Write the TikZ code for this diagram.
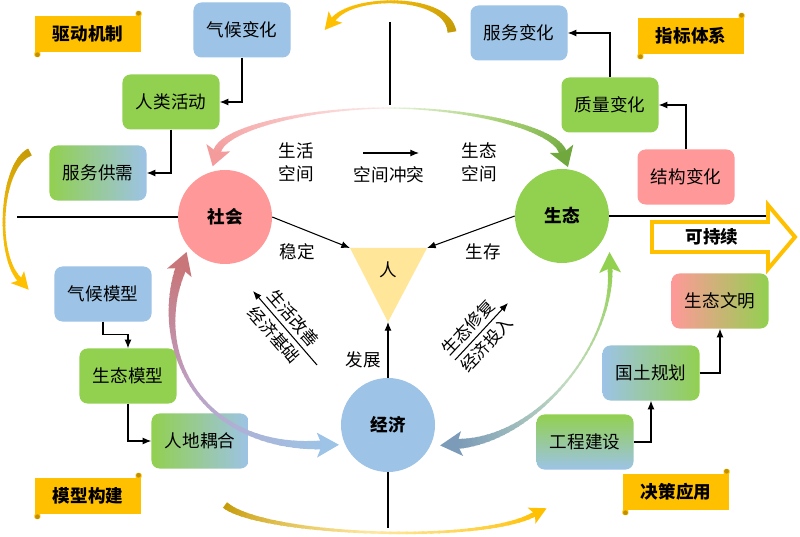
\documentclass[tikz,border=0pt]{standalone}
\usepackage{fontspec}
\setmainfont{Noto Sans CJK SC}
\usetikzlibrary{arrows.meta,calc,shadings}
\definecolor{cblue}{HTML}{9DC3E6}
\definecolor{cgreen}{HTML}{92D050}
\definecolor{cpink}{HTML}{FF9999}
\definecolor{cgold}{HTML}{FFC000}
\definecolor{cdgold}{HTML}{BF9000}
\definecolor{ctri}{HTML}{FFE699}
\definecolor{pinkA}{HTML}{FCEAEA}
\definecolor{pinkM}{HTML}{F8BCBC}
\definecolor{pinkB}{HTML}{F49C9C}
\definecolor{grnA}{HTML}{E8F3DC}
\definecolor{grnM}{HTML}{A5CF72}
\definecolor{grnB}{HTML}{70A83E}
\definecolor{roseA}{HTML}{C8767A}
\definecolor{roseM}{HTML}{BDA2C6}
\definecolor{roseB}{HTML}{9DC3E6}
\definecolor{stlA}{HTML}{7B9BB8}
\definecolor{stlM}{HTML}{C2DCC0}
\definecolor{stlB}{HTML}{92D050}
\definecolor{ylA}{HTML}{C49A06}
\definecolor{ylM}{HTML}{EDB60A}
\definecolor{ylB}{HTML}{FFC000}
\definecolor{ylP}{HTML}{FFE8A0}

\newcommand\setbez[8]{\def\bxa{#1}\def\bya{#2}\def\bxb{#3}\def\byb{#4}\def\bxc{#5}\def\byc{#6}\def\bxd{#7}\def\byd{#8}}
\newcommand\bezpt[2]{%
  \pgfmathsetmacro\bzS{#1}%
  \pgfmathsetmacro\bzU{1-\bzS}%
  \pgfmathsetmacro\bzX{\bzU*\bzU*\bzU*(\bxa)+3*\bzU*\bzU*\bzS*(\bxb)+3*\bzU*\bzS*\bzS*(\bxc)+\bzS*\bzS*\bzS*(\bxd)}%
  \pgfmathsetmacro\bzY{\bzU*\bzU*\bzU*(\bya)+3*\bzU*\bzU*\bzS*(\byb)+3*\bzU*\bzS*\bzS*(\byc)+\bzS*\bzS*\bzS*(\byd)}%
  \coordinate (#2) at (\bzX,\bzY);}
\newcommand\taper[6]{%
  \foreach \ii in {0,...,47}{%
    \pgfmathsetmacro\tsa{\ii/48}%
    \pgfmathsetmacro\tsb{min((\ii+1)/48+0.006,1)}%
    \pgfmathsetmacro\tsm{(\ii+0.5)/48}%
    \pgfmathsetmacro\tww{0.85*((1-\tsm)*(1-\tsm)*(#1)+2*\tsm*(1-\tsm)*(#2)+\tsm*\tsm*(#3))}%
    \pgfmathtruncatemacro\tpc{\tsm<0.5 ? 200*\tsm : 200*(\tsm-0.5)}%
    \ifdim\tsm pt<0.5pt\colorlet{segc}{#5!\tpc!#4}\else\colorlet{segc}{#6!\tpc!#5}\fi
    \bezpt{\tsa}{ta}\bezpt{\tsb}{tb}%
    \draw[segc,line width=\tww pt] (ta) -- (tb);
  }}
\newcommand\bezhead[5]{%
  \bezpt{#1}{he}\bezpt{#2}{hp}%
  \pgfmathsetmacro\hdL{0.85*(#4)}%
  \pgfmathsetmacro\hdB{0.3*\hdL}%
  \pgfmathsetmacro\hdH{0.425*(#5)}%
  \coordinate (ht) at ($(he)!-\hdL pt!(hp)$);
  \coordinate (hb) at ($(he)!\hdB pt!(hp)$);
  \coordinate (hL) at ($(hb)!\hdH pt!90:(he)$);
  \coordinate (hR) at ($(hb)!\hdH pt!-90:(he)$);
  \fill[#3] (ht) -- (hL) -- (he) -- (hR) -- cycle;}
\newcommand\scrollnode[4]{%
  \node[scrollbox] (#1) at (#2,#3) {#4};
  \fill[cgold,rounded corners=0.05cm] ($(#1.north east)+(-6,1)$) rectangle ($(#1.north east)+(0,-5)$);
  \fill[cdgold] ($(#1.north east)+(-3,-2.5)$) circle (0.07cm);
  \fill[cgold,rounded corners=0.05cm] ($(#1.south west)+(0,-1)$) rectangle ($(#1.south west)+(6,5)$);
  \fill[cdgold] ($(#1.south west)+(3,2.5)$) circle (0.07cm);}

\begin{document}
\begin{tikzpicture}[x=0.03cm,y=-0.03cm,
  box/.style={rounded corners=0.24cm, minimum width=2.91cm, minimum height=1.65cm, inner sep=0pt, font=\fontsize{15}{18}\selectfont},
  circ/.style={circle, minimum size=2.82cm, inner sep=0pt, font=\bfseries\fontsize{15}{18}\selectfont},
  scrollbox/.style={fill=cgold, minimum width=3.2cm, minimum height=1.08cm, inner sep=0pt, font=\bfseries\fontsize{15}{18}\selectfont},
  lbl/.style={inner sep=1pt, font=\fontsize{15}{18}\selectfont},
  rlbl/.style={inner sep=0pt, font=\fontsize{14.5}{16}\selectfont},
  conn/.style={draw=black, line width=0.9pt, -{Latex[length=2.6mm,width=2.1mm]}},
  axisline/.style={draw=black, line width=1.3pt},
]
\fill[white] (0,0) rectangle (800,537);
\useasboundingbox (0,0) rectangle (800,537);

% outer yellow arrows
\setbez{452}{32}{448}{-6}{352}{-6}{333}{20}
\taper{9}{-1}{5}{ylA}{ylM}{ylB}
\bezhead{1}{0.97}{ylB}{13}{18}
\setbez{30}{152}{0}{165}{-5}{255}{20}{280}
\taper{8}{-1}{5}{ylA}{ylM}{ylB}
\bezhead{1}{0.97}{ylB}{13}{18}
\setbez{225}{505}{260}{535}{480}{545}{535}{514}
\taper{7}{-1}{5}{ylA}{ylP}{ylB}
\bezhead{1}{0.97}{ylB}{13}{18}

% scroll labels
\scrollnode{s1}{88}{34}{驱动机制}
\scrollnode{s2}{691}{36}{指标体系}
\scrollnode{s3}{88}{496}{模型构建}
\scrollnode{s4}{676}{492}{决策应用}

% boxes
\node[box, fill=cblue] (cl) at (242,30) {气候变化};
\node[box, fill=cgreen] (ha) at (171,102) {人类活动};
\node[box, left color=cgreen, right color=cblue] (sd) at (98,173) {服务供需};
\node[box, fill=cblue] (sc) at (519,33) {服务变化};
\node[box, fill=cgreen] (qc) at (610,105) {质量变化};
\node[box, fill=cpink] (stc) at (686,177) {结构变化};
\node[box, fill=cblue] (cm) at (103,294) {气候模型};
\node[box, fill=cgreen] (em) at (128,376) {生态模型};
\node[box, left color=cgreen, right color=cblue] (hl) at (200,441) {人地耦合};
\node[box, left color=cpink, right color=cgreen] (ec) at (720,301) {生态文明};
\node[box, left color=cblue, right color=cgreen] (gt) at (651,373) {国土规划};
\node[box, top color=cgreen, bottom color=cblue] (gc) at (585,442) {工程建设};

\draw[conn] (cl.south) |- (ha.east);
\draw[conn] (ha.south) |- (sd.east);
\draw[conn] (qc.north) |- (sc.east);
\draw[conn] (stc.north) |- (qc.east);
\draw[conn] (cm.south) -- ++(0,13) -| (em.north);
\draw[conn] (em.south) |- (hl.west);
\draw[conn] (gc.east) -| (gt.south);
\draw[conn] (gt.east) -| (ec.south);

% circles
\node[circ, fill=cpink] (soc) at (225,217) {社会};
\node[circ, fill=cgreen] (eco) at (562,216) {生态};
\node[circ, fill=cblue] (econ) at (388,425) {经济};

% axis lines
\coordinate (lh1) at (17,217);
\coordinate (rh2) at (766,216);
\coordinate (vt1) at (390,22);
\coordinate (vt2) at (390,105);
\coordinate (vb2) at (388,528);
\draw[axisline] (lh1) -- (soc.west);
\draw[axisline] (vt1) -- (vt2);
\draw[axisline] (econ.south) -- (vb2);

% sustainable arrow
\draw[axisline] (eco.east) -- (rh2);
\draw[cgold, line width=3.4pt, fill=white, line join=miter] (652,222) -- (768,222) -- (768,205) -- (795,237) -- (768,269) -- (768,252) -- (652,252) -- cycle;
\node[font=\bfseries\fontsize{15}{18}\selectfont] (kcx) at (712,237) {可持续};

% big gradient arcs
\setbez{389}{108}{310}{108}{222}{128}{217}{152}
\taper{1}{3}{8}{pinkA}{pinkM}{pinkB}
\bezhead{1}{0.97}{pinkB}{15}{25}
\setbez{389}{108}{468}{108}{557}{128}{563}{153}
\taper{1}{3}{8}{grnA}{grnM}{grnB}
\bezhead{1}{0.97}{grnB}{15}{25}
\setbez{181}{268}{150}{350}{200}{450}{322}{445}
\taper{11}{-3}{9}{roseA}{roseM}{roseB}
\bezhead{0}{0.03}{roseA}{17}{26}
\bezhead{1}{0.97}{roseB}{17}{25}
\setbez{457}{444}{540}{440}{615}{340}{610}{268}
\taper{10}{-3}{5}{stlA}{stlM}{stlB}
\bezhead{0}{0.03}{stlA}{17}{25}
\bezhead{1}{0.97}{stlB}{16}{22}

% triangle
\coordinate (tl) at (350,248);
\coordinate (tr) at (427,248);
\coordinate (tbm) at (388,322);
\fill[ctri] (tl) -- (tr) -- (tbm) -- cycle;
\node[lbl] (ren) at (388,270) {人};
\draw[conn] (soc.east) -- (tl);
\draw[conn] (eco.west) -- (tr);
\draw[conn] (econ.north) -- (tbm);

% labels
\node[lbl] (t1) at (296,151) {生活};
\node[lbl] (t2) at (296,174) {空间};
\node[lbl] (t3) at (389,175) {空间冲突};
\node[lbl] (t4) at (479,151) {生态};
\node[lbl] (t5) at (479,174) {空间};
\node[lbl] (t6) at (297,252) {稳定};
\node[lbl] (t7) at (483,252) {生存};
\node[lbl] (t8) at (363,360) {发展};
\coordinate (ca1) at (363,153);
\coordinate (ca2) at (419,153);
\draw[conn] (ca1) -- (ca2);

\coordinate (la1) at (317,365);
\coordinate (la2) at (253,291);
\draw[conn] (la1) -- (la2);
\node[rlbl, rotate=-49] (r1) at ($(la1)!0.52!(la2)+(9.5,-8.2)$) {生活改善};
\node[rlbl, rotate=-49] (r2) at ($(la1)!0.52!(la2)+(-9.5,8.2)$) {经济基础};
\coordinate (lb1) at (455,360);
\coordinate (lb2) at (508,303);
\draw[conn] (lb1) -- (lb2);
\node[rlbl, rotate=47] (r3) at ($(lb1)!0.42!(lb2)+(-9.2,-8.5)$) {生态修复};
\node[rlbl, rotate=47] (r4) at ($(lb1)!0.42!(lb2)+(9.2,8.5)$) {经济投入};
\end{tikzpicture}
\end{document}
